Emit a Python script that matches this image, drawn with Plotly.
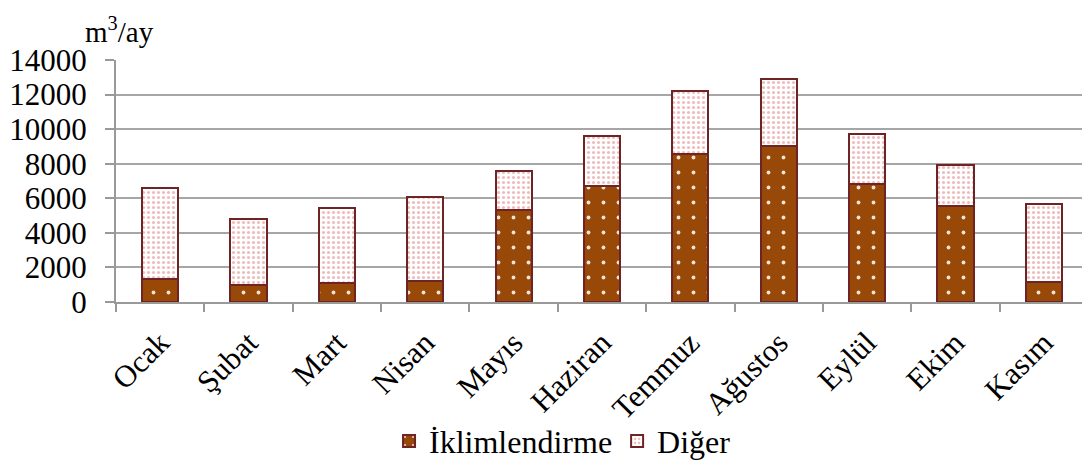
import plotly.graph_objects as go

months = ["Ocak", "Şubat", "Mart", "Nisan", "Mayıs", "Haziran", "Temmuz",
          "Ağustos", "Eylül", "Ekim", "Kasım"]
iklimlendirme = [1350, 980, 1100, 1200, 5320, 6700, 8560, 9020, 6810, 5550, 1160]
diger = [5250, 3800, 4350, 4870, 2260, 2900, 3660, 3860, 2910, 2380, 4490]
y_ticks = [0, 2000, 4000, 6000, 8000, 10000, 12000, 14000]
y_tick_labels = [str(v) for v in y_ticks]

FONT = "Liberation Serif"
edge = "#6e2424"

fig = go.Figure()
fig.add_trace(go.Bar(
    x=months, y=iklimlendirme, name="İklimlendirme", width=0.41,
    marker=dict(color="#984807", line=dict(color=edge, width=2),
                pattern=dict(shape=".", fgcolor="#f3e2d6", bgcolor="#984807",
                             size=15, solidity=0.05, fillmode="replace")),
))
fig.add_trace(go.Bar(
    x=months, y=diger, name="Diğer ", width=0.41,
    marker=dict(color="#ffffff", line=dict(color=edge, width=2),
                pattern=dict(shape=".", fgcolor="#efbcbc", bgcolor="#ffffff",
                             size=5, solidity=0.3, fillmode="replace")),
))

# page body has an 8px margin, so the figure is 8px smaller and shifted
fig.update_layout(
    barmode="stack",
    width=1082, height=454,
    margin=dict(l=108, r=2, t=52, b=160, autoexpand=False),
    paper_bgcolor="white", plot_bgcolor="white",
    font=dict(family=FONT, color="black", size=31),
    showlegend=True,
    legend=dict(orientation="h", x=0.463, xanchor="center", y=-0.575, yanchor="middle",
                font=dict(family=FONT, size=32), traceorder="normal",
                itemsizing="constant", bgcolor="rgba(0,0,0,0)"),
    annotations=[dict(text="m<sup>3</sup>/ay", xref="paper", yref="paper",
                      x=-0.034, y=1.205, xanchor="left", yanchor="top",
                      showarrow=False, font=dict(family=FONT, size=29))],
)
fig.update_xaxes(
    type="category", tickangle=-45, tickson="boundaries", ticks="outside",
    ticklen=8, tickcolor="#999999", tickwidth=2,
    showline=True, linecolor="#999999", linewidth=2,
    showgrid=False, tickfont=dict(family=FONT, size=31), automargin=False,
    ticklabelstandoff=8,
)
fig.update_yaxes(
    range=[0, 14000], tickvals=y_ticks, ticktext=y_tick_labels, ticks="outside", ticklen=9,
    tickcolor="#999999", tickwidth=2,
    showline=True, linecolor="#999999", linewidth=2,
    showgrid=True, gridcolor="#a6a6a6", gridwidth=2,
    tickfont=dict(family=FONT, size=31), ticklabelstandoff=12,
    zeroline=False, automargin=False,
)

fig.write_html("out.html")
